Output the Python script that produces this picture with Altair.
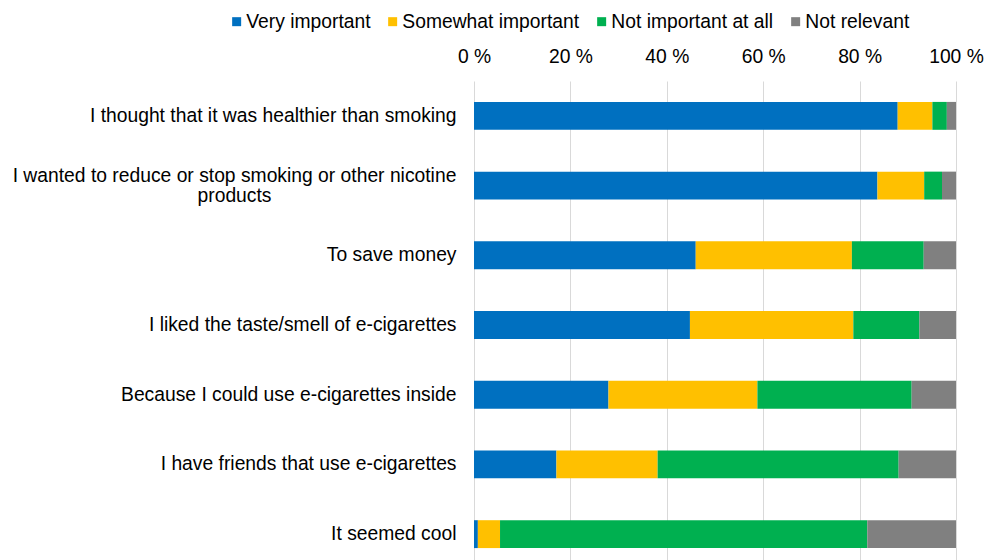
import altair as alt
import pandas as pd

categories = [
    "I thought that it was healthier than smoking",
    "I wanted to reduce or stop smoking or other nicotine products",
    "To save money",
    "I liked the taste/smell of e-cigarettes",
    "Because I could use e-cigarettes inside",
    "I have friends that use e-cigarettes",
    "It seemed cool",
]
series = ["Very important", "Somewhat important", "Not important at all", "Not relevant"]
very_important = [87.9, 83.7, 46.0, 44.8, 27.9, 17.1, 0.8]
somewhat_important = [7.2, 9.7, 32.4, 33.9, 30.9, 21.0, 4.6]
not_important = [3.0, 3.7, 14.9, 13.7, 32.0, 50.0, 76.2]
not_relevant = [1.9, 2.9, 6.7, 7.6, 9.2, 11.9, 18.4]
colors = ["#0070C0", "#FFC000", "#00B050", "#808080"]
x_ticks = [0, 20, 40, 60, 80, 100]

rows = []
for s_i, (s, vals) in enumerate(zip(series, [very_important, somewhat_important, not_important, not_relevant])):
    for c, v in zip(categories, vals):
        rows.append({"reason": c, "series": s, "value": v, "order": s_i})
df = pd.DataFrame(rows)

is_wrapped = "datum.value == '" + categories[1] + "'"
wrap_label = (
    is_wrapped + " ? "
    "['I wanted to reduce or stop smoking or other nicotine', 'products'] : datum.value"
)

chart = alt.Chart(df).mark_bar().encode(
    x=alt.X(
        "value:Q",
        stack="zero",
        scale=alt.Scale(domain=[0, 100], nice=False),
        axis=alt.Axis(
            orient="top",
            values=x_ticks,
            labelExpr="datum.value + ' %'",
            title=None,
            domain=False,
            ticks=False,
            tickSize=0,
            labelPadding=15,
            labelFlush=False,
            labelOverlap=False,
            grid=True,
            gridColor="#d9d9d9",
            gridWidth=1,
        ),
    ),
    y=alt.Y(
        "reason:N",
        sort=categories,
        scale=alt.Scale(paddingInner=0.6, paddingOuter=0.3),
        axis=alt.Axis(
            title=None,
            domain=False,
            ticks=False,
            tickSize=0,
            labelPadding={"condition": {"test": is_wrapped, "value": 240}, "value": 18},
            labelAlign={"condition": {"test": is_wrapped, "value": "center"}, "value": "right"},
            labelOffset={"condition": {"test": is_wrapped, "value": -10}, "value": 0},
            labelExpr=wrap_label,
            labelLineHeight=20,
            labelLimit=600,
        ),
    ),
    color=alt.Color(
        "series:N",
        scale=alt.Scale(domain=series, range=colors),
        legend=alt.Legend(
            title=None,
            orient="none",
            direction="horizontal",
            legendX=-247,
            legendY=-69,
            symbolType="square",
            symbolSize=81,
            symbolStrokeWidth=0,
            labelOffset=0,
            columnPadding=12,
            padding=0,
            labelLimit=400,
        ),
    ),
    order=alt.Order("order:Q"),
).properties(
    width=482,
    height=488,
    padding={"left": 12, "top": 12, "right": 0, "bottom": 0},
).configure_view(
    stroke=None
).configure_axis(
    labelFont="Liberation Sans",
    labelFontSize=19.3,
    labelColor="#000000",
).configure_legend(
    labelFont="Liberation Sans",
    labelFontSize=19.3,
    labelColor="#000000",
)

chart.save("out.html", embed_options={"renderer": "svg", "actions": False})
